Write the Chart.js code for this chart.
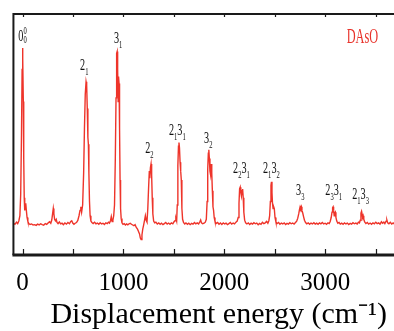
<!DOCTYPE html>
<html lang="en">
<head>
<meta charset="UTF-8">
<title>DAsO displacement spectrum</title>
<script src="https://cdn.jsdelivr.net/npm/chart.js"></script>
<style>
  html, body { margin: 0; padding: 0; background: #fff; overflow: hidden; }
  #wrap { width: 424px; height: 331px; }
</style>
</head>
<body>
<div id="wrap"><canvas id="spectrumChart"></canvas></div>
<script>
// spectrum: [displacement energy (cm-1), intensity]
const spectrum = [
  [-90,1.8],[-75,1.2],[-60,2.4],[-48,1.6],[-36,3.2],[-26,6],[-18,18],[-10,52],[-4,88],[0,100],
  [4,94],[8,70],[12,38],[17,16],[22,9],[27,12],[32,13],[38,9],[45,5],[53,2.8],
  [62,1.6],[75,1.1],[90,1.4],[105,0.8],[120,1.0],[135,0.6],[150,1.3],[165,0.9],[180,1.5],[195,1.0],
  [210,0.7],[225,1.6],[240,1.1],[255,2.0],[268,2.6],[280,1.8],[290,3.6],[298,7],[305,10],[311,7],
  [318,4],[326,3.2],[334,4],[342,2.2],[352,1.6],[365,2.5],[378,1.4],[392,1.8],[405,1.0],[420,1.9],
  [435,1.3],[450,2.2],[465,1.5],[478,2.8],[488,3.2],[498,1.9],[510,1.2],[522,1.8],[535,2.2],[548,3.4],
  [560,6],[570,9],[578,11],[586,8],[596,12],[606,30],[614,55],[622,74],[630,81],[636,79],
  [642,66],[648,50],[653,46],[658,30],[664,14],[670,6],[678,3],[688,2.2],[700,1.6],[714,2.4],
  [728,1.5],[742,1.9],[756,1.2],[770,2.1],[784,1.4],[798,1.8],[812,1.1],[826,2.0],[840,1.6],[852,2.4],
  [862,1.9],[872,3.2],[880,5.5],[888,2.8],[896,3.5],[904,6],[912,12],[920,38],[927,72],[933,97],
  [938,98],[943,88],[948,70],[952,84],[957,80],[962,55],[967,26],[972,10],[978,4.5],[986,2.0],
  [996,1.2],[1008,1.6],[1020,0.8],[1032,1.4],[1044,0.9],[1056,1.5],[1068,1.8],[1080,1.2],[1092,0.8],[1104,0.4],
  [1116,1.0],[1128,-0.6],[1140,-1.5],[1150,-2.8],[1160,-4.2],[1168,-6.5],[1176,-7.4],[1184,-4.8],[1192,-1.5],[1200,0.6],
  [1210,3.5],[1218,6],[1226,3.5],[1234,2.5],[1242,10],[1250,22],[1257,31],[1262,27],[1268,33],[1274,35],
  [1280,29],[1286,16],[1292,7],[1300,3],[1310,2],[1322,2.4],[1336,1.4],[1350,2.0],[1364,1.2],[1378,1.8],
  [1392,1.0],[1406,1.6],[1420,2.2],[1434,1.3],[1448,1.9],[1462,1.2],[1476,2.0],[1490,1.5],[1502,2.6],[1512,3.2],
  [1520,4.6],[1528,3.0],[1534,12],[1540,34],[1546,45],[1551,47],[1556,44],[1562,36],[1568,31],[1574,26],
  [1580,10],[1587,4],[1596,2.2],[1608,1.4],[1620,2.0],[1634,1.2],[1648,1.8],[1662,1.0],[1676,1.7],[1690,1.3],
  [1704,2.2],[1718,1.5],[1732,2.0],[1746,1.4],[1758,2.6],[1766,3.6],[1774,2.0],[1786,1.5],[1800,1.8],[1812,2.4],
  [1822,4],[1830,14],[1836,32],[1842,41],[1847,43],[1852,38],[1858,31],[1864,29],[1870,35],[1876,30],
  [1882,20],[1888,11],[1894,9],[1900,5],[1908,2.8],[1920,1.6],[1934,2.2],[1948,1.2],[1962,1.9],[1976,1.1],
  [1990,2.0],[2004,1.4],[2018,1.8],[2032,1.0],[2046,1.6],[2060,2.2],[2074,1.3],[2088,1.9],[2102,1.4],[2116,2.4],
  [2128,3.0],[2138,5],[2146,13],[2152,21],[2158,22],[2164,19],[2170,17],[2176,20],[2182,21],[2188,16],
  [2194,8],[2202,3.5],[2212,2.0],[2224,1.4],[2238,2.0],[2252,1.1],[2266,1.8],[2280,1.3],[2294,2.1],[2308,1.5],
  [2322,1.9],[2336,1.0],[2350,1.7],[2364,1.2],[2378,2.3],[2392,1.6],[2406,2.0],[2420,2.8],[2432,1.8],[2442,3.2],
  [2450,6],[2457,14],[2463,23],[2468,25],[2473,19],[2478,13],[2484,10],[2490,11],[2496,10],[2503,5],
  [2512,2.5],[2524,1.6],[2538,2.2],[2552,1.2],[2566,1.9],[2580,1.4],[2594,2.0],[2608,1.1],[2622,1.7],[2636,1.3],
  [2650,2.1],[2664,1.5],[2678,1.9],[2692,1.3],[2706,2.2],[2718,3.0],[2728,4.5],[2738,7],[2746,9.5],[2752,11],
  [2758,10],[2764,11],[2770,9],[2778,7.5],[2786,5.5],[2795,3.5],[2806,2.2],[2818,1.5],[2832,2.0],[2846,1.2],
  [2860,1.9],[2874,1.4],[2888,2.1],[2902,1.3],[2916,1.8],[2930,1.2],[2944,2.0],[2958,1.5],[2972,2.2],[2986,1.4],
  [3000,1.8],[3014,1.2],[3028,2.0],[3040,1.6],[3050,2.8],[3060,5],[3068,8],[3074,10.5],[3079,11],[3084,9],
  [3090,6],[3096,7.5],[3101,8],[3107,5],[3115,3],[3126,1.8],[3138,2.2],[3150,1.3],[3164,1.8],[3178,1.2],
  [3192,2.0],[3206,1.4],[3220,1.9],[3234,1.1],[3248,1.7],[3262,1.3],[3276,2.1],[3290,1.5],[3304,1.9],[3318,1.4],
  [3330,2.4],[3340,2.0],[3348,3.5],[3355,7.5],[3361,8.5],[3366,7],[3371,5],[3377,6],[3383,4],[3392,2.5],
  [3404,1.6],[3418,2.2],[3432,1.3],[3446,1.9],[3460,1.2],[3474,2.0],[3488,1.5],[3502,2.4],[3516,1.6],[3530,2.0],
  [3544,1.3],[3558,2.6],[3570,1.8],[3582,2.4],[3592,1.6],[3604,2.9],[3612,3.6],[3620,2.0],[3632,1.5],[3646,2.3],
  [3660,1.4],[3674,2.0],[3688,1.2],[3702,1.8],[3716,1.3],[3730,2.1],[3744,1.5],[3758,1.9],[3772,1.2],[3786,1.8],
  [3800,1.4],[3820,2.0],[3840,1.3],[3860,1.7],[3880,1.2],[3900,1.9],[3920,1.4],[3940,1.8],[3960,1.3],[3980,1.6]
];

// peak assignments: [digit, subscript, superscript]
const peakLabels = [
  [["0", "0", "0"]],
  [["2", "1"]],
  [["3", "1"]],
  [["2", "2"]],
  [["2", "1"], ["3", "1"]],
  [["3", "2"]],
  [["2", "2"], ["3", "1"]],
  [["2", "1"], ["3", "2"]],
  [["3", "3"]],
  [["2", "3"], ["3", "1"]],
  [["2", "1"], ["3", "3"]]
];
const peakLabelX = [0, 612, 948, 1258, 1535, 1841, 2171, 2467, 2753, 3085, 3351];
const peakLabelY = [104, 87.6, 103, 41, 51, 47, 29.8, 29.8, 17.4, 17.4, 15.2];

const xTicks = [0, 500, 1000, 1500, 2000, 2500, 3000, 3500];
const xMin = -90, xMax = 3980, yMin = -16, yMax = 119;
const serif = '"Liberation Serif", "Times New Roman", serif';

const framePlugin = {
  id: 'frame',
  afterDraw(chart) {
    const { ctx, chartArea: a, scales: { x } } = chart;
    ctx.save();
    ctx.strokeStyle = '#1a1a1a';
    ctx.lineWidth = 2;
    ctx.beginPath();
    ctx.moveTo(a.right, a.top);
    ctx.lineTo(a.left, a.top);
    ctx.lineTo(a.left, a.bottom);
    ctx.stroke();
    ctx.lineWidth = 3;
    ctx.beginPath();
    ctx.moveTo(a.left - 1, a.bottom);
    ctx.lineTo(a.right, a.bottom);
    ctx.stroke();
    ctx.lineWidth = 1.2;
    x.ticks.forEach(t => {
      const px = Math.round(x.getPixelForValue(t.value)) + 0.5;
      ctx.beginPath();
      ctx.moveTo(px, a.top);
      ctx.lineTo(px, a.top + 3);
      ctx.moveTo(px, a.bottom);
      ctx.lineTo(px, a.bottom - 6);
      ctx.stroke();
    });
    ctx.restore();
  }
};

// the figure's labels are narrow serif text, so squeeze them sideways
function drawPeakLabel(ctx, cx, baseY, parts) {
  const sx = 0.6;
  const mainFont = '17px ' + serif, subFont = '11px ' + serif;
  let w = 0;
  parts.forEach(p => {
    ctx.font = mainFont; w += ctx.measureText(p[0]).width;
    ctx.font = subFont; w += ctx.measureText(p[1]).width;
  });
  ctx.save();
  ctx.translate(cx - w * sx / 2, baseY);
  ctx.scale(sx, 1);
  ctx.fillStyle = '#111';
  ctx.textBaseline = 'alphabetic';
  let pos = 0;
  parts.forEach(p => {
    ctx.font = mainFont;
    ctx.fillText(p[0], pos, 0);
    pos += ctx.measureText(p[0]).width;
    ctx.font = subFont;
    if (p[2]) {
      ctx.fillText(p[2], pos, -7);
      ctx.fillText(p[1], pos, 2);
    } else {
      ctx.fillText(p[1], pos, 5);
    }
    pos += ctx.measureText(p[1]).width;
  });
  ctx.restore();
}

const labelPlugin = {
  id: 'peakLabels',
  afterDatasetsDraw(chart) {
    const { ctx, scales: { x, y }, chartArea: a } = chart;
    peakLabels.forEach((parts, i) => {
      drawPeakLabel(ctx, x.getPixelForValue(peakLabelX[i]), y.getPixelForValue(peakLabelY[i]), parts);
    });
    // molecule name
    ctx.save();
    ctx.translate(x.getPixelForValue(3370), a.top + 29);
    ctx.scale(0.56, 1);
    ctx.font = '22px ' + serif;
    ctx.fillStyle = '#e8332b';
    ctx.textAlign = 'center';
    ctx.fillText('DAsO', 0, 0);
    ctx.restore();
  }
};

const ctx = document.getElementById('spectrumChart').getContext('2d');
new Chart(ctx, {
  type: 'line',
  data: {
    datasets: [{
      data: spectrum.map(p => ({ x: p[0], y: p[1] })),
      borderColor: 'rgb(238, 52, 42)',
      borderWidth: 1.4,
      pointRadius: 0,
      tension: 0,
      fill: false
    }]
  },
  options: {
    responsive: true,
    maintainAspectRatio: false,
    animation: false,
    layout: { padding: { left: 12, top: 14, right: 0, bottom: 1 } },
    plugins: { legend: { display: false }, tooltip: { enabled: false } },
    scales: {
      x: {
        type: 'linear',
        min: xMin,
        max: xMax,
        afterBuildTicks: scale => { scale.ticks = xTicks.map(v => ({ value: v })); },
        afterFit: scale => { scale.height = 75; },
        grid: { display: false, drawTicks: false },
        border: { display: false },
        ticks: {
          autoSkip: false,
          maxRotation: 0,
          padding: 16,
          color: '#000',
          font: { family: serif, size: 25, lineHeight: 1 },
          callback: v => (v % 1000 === 0 ? String(v) : '')
        },
        title: {
          display: true,
          text: 'Displacement energy (cm⁻¹)',
          color: '#000',
          font: { family: serif, size: 30, lineHeight: 1 },
          padding: { top: 0, bottom: 0 }
        }
      },
      y: { display: false, min: yMin, max: yMax }
    }
  },
  plugins: [framePlugin, labelPlugin]
});
</script>
</body>
</html>
